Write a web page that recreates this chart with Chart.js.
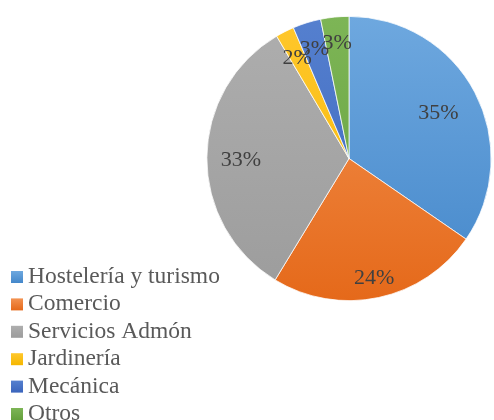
<!DOCTYPE html>
<html>
<head>
<meta charset="utf-8">
<script src="https://cdn.jsdelivr.net/npm/chart.js@4"></script>
<style>
  html, body { margin: 0; padding: 0; background: #fff; }
  #wrap { width: 494px; height: 420px; }
</style>
</head>
<body>
<div id="wrap"><canvas id="pie" width="494" height="420"></canvas></div>
<script>
const categories = ['Hostelería y turismo', 'Comercio', 'Servicios Admón', 'Jardinería', 'Mecánica', 'Otros'];
const shares = [34.6, 24.1, 32.8, 2.1, 3.2, 3.2];
const percentLabels = ['35%', '24%', '33%', '2%', '3%', '3%'];

// light (top) / dark (bottom) shade of each slice
const lightColors = ['#6EA8DF', '#F39352', '#AEAEAE', '#FFC72C', '#5580CF', '#7DB556'];
const darkColors = ['#4487CA', '#E5691A', '#9C9C9C', '#F5B700', '#3A64BC', '#64A03C'];
const labelRadius = [0.71, 0.85, 0.76, 0.81, 0.82, 0.83];

function sliceFill(context) {
    const chart = context.chart;
    const area = chart.chartArea;
    if (!area) return lightColors[context.dataIndex];
    const g = chart.ctx.createLinearGradient(0, area.top, 0, area.bottom);
    g.addColorStop(0, lightColors[context.dataIndex]);
    g.addColorStop(1, darkColors[context.dataIndex]);
    return g;
}

const pctLabels = {
    id: 'pctLabels',
    afterDatasetsDraw(chart) {
        const ctx = chart.ctx;
        const arcs = chart.getDatasetMeta(0).data;
        ctx.save();
        ctx.font = '22px "Liberation Serif", "Times New Roman", serif';
        ctx.fillStyle = '#404040';
        ctx.textAlign = 'center';
        ctx.textBaseline = 'middle';
        arcs.forEach((arc, i) => {
            const mid = (arc.startAngle + arc.endAngle) / 2;
            const r = arc.outerRadius * labelRadius[i];
            ctx.fillText(percentLabels[i], arc.x + Math.cos(mid) * r, arc.y + Math.sin(mid) * r + 2);
        });
        ctx.restore();
    }
};

const sideLegend = {
    id: 'sideLegend',
    afterDraw(chart) {
        const ctx = chart.ctx;
        ctx.save();
        ctx.font = '23.5px "Liberation Serif", "Times New Roman", serif';
        ctx.textBaseline = 'alphabetic';
        ctx.textAlign = 'left';
        categories.forEach((name, i) => {
            const base = 283 + i * 27.4;
            const g = ctx.createLinearGradient(0, base - 12, 0, base);
            g.addColorStop(0, lightColors[i]);
            g.addColorStop(1, darkColors[i]);
            ctx.fillStyle = g;
            ctx.fillRect(11, base - 12, 12, 12);
            ctx.fillStyle = '#595959';
            ctx.fillText(name, 28, base);
        });
        ctx.restore();
    }
};

new Chart(document.getElementById('pie'), {
    type: 'pie',
    data: {
        labels: categories,
        datasets: [{
            data: shares,
            backgroundColor: sliceFill,
            borderColor: '#ffffff',
            borderWidth: 0.75
        }]
    },
    options: {
        responsive: false,
        animation: false,
        layout: { padding: { left: 206, top: 16, right: 2, bottom: 119 } },
        plugins: {
            legend: { display: false },
            tooltip: { enabled: false }
        }
    },
    plugins: [pctLabels, sideLegend]
});
</script>
</body>
</html>
